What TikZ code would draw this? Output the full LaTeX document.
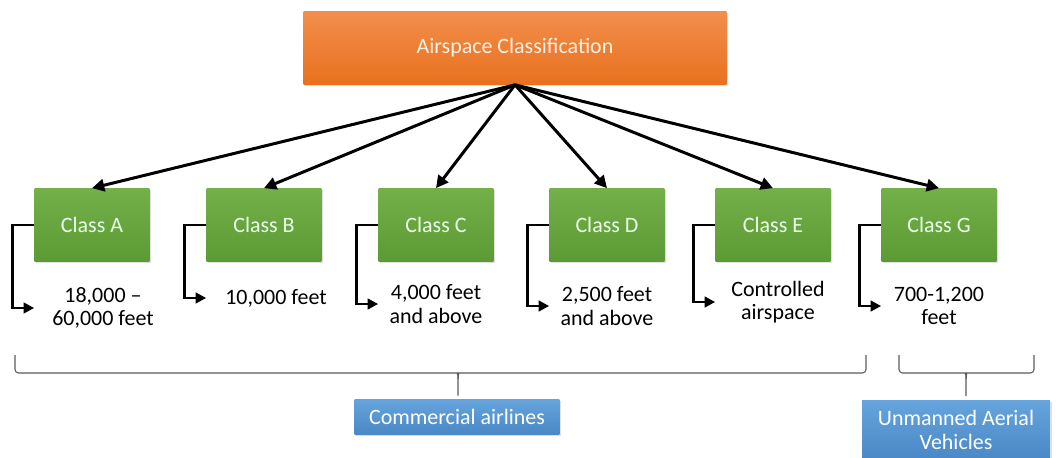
\documentclass[tikz,border=0pt]{standalone}
\usepackage{fontspec}
\setmainfont{Carlito}
\usetikzlibrary{arrows.meta, positioning, shadows}
\definecolor{orgtop}{HTML}{F28E4C}
\definecolor{orgbot}{HTML}{E8711F}
\definecolor{grntop}{HTML}{74B04A}
\definecolor{grnbot}{HTML}{5C9A33}
\definecolor{blutop}{HTML}{65A4DC}
\definecolor{blubot}{HTML}{4A88C6}
\definecolor{brcgray}{HTML}{5A5A5A}

\begin{document}
\begin{tikzpicture}[
      x=0.02cm, y=-0.02cm,
      font=\fontsize{12.5}{13.5}\selectfont,
      topbox/.style={rectangle, top color=orgtop, bottom color=orgbot,
                     draw=none, minimum width=8.46cm, minimum height=1.46cm,
                     text=orange!10, drop shadow={opacity=0.25, shadow xshift=1pt, shadow yshift=-1pt}},
      classbox/.style={rectangle, top color=grntop, bottom color=grnbot,
                       draw=none, minimum width=2.3cm, minimum height=1.46cm,
                       text=green!8!white, drop shadow={opacity=0.25, shadow xshift=1pt, shadow yshift=-1pt}},
      userbox/.style={rectangle, top color=blutop, bottom color=blubot,
                      draw=none, text=white, align=center,
                      drop shadow={opacity=0.25, shadow xshift=1pt, shadow yshift=-1pt}},
      lbl/.style={align=center, inner sep=0pt},
      arr/.style={-{Triangle[length=7pt,width=7pt]}, line width=1.7pt, black},
      elbow/.style={-{Triangle[length=6pt,width=6pt]}, line width=1.6pt, black},
      brc/.style={draw=brcgray, line width=0.6pt, rounded corners=2pt},
      ]
    \useasboundingbox (0,0) rectangle (1062,457);

    \node[topbox] (air) at (515,48) {Airspace Classification};

    \node[classbox] (ca) at (92,225) {Class A};
    \node[classbox] (cb) at (264,225) {Class B};
    \node[classbox] (cc) at (436,225) {Class C};
    \node[classbox] (cd) at (607,225) {Class D};
    \node[classbox] (ce) at (773,225) {Class E};
    \node[classbox] (cg) at (939,225) {Class G};

    \node[lbl] (fa) at (103,308) {18,000 –\\60,000 feet};
    \node[lbl] (fb) at (276,298) {10,000 feet};
    \node[lbl] (fc) at (436,304) {4,000 feet\\and above};
    \node[lbl] (fd) at (607,306) {2,500 feet\\and above};
    \node[lbl] (fe) at (778,302) {Controlled\\airspace};
    \node[lbl] (fg) at (939,306) {700-1,200\\feet};

    \node[userbox, minimum width=4.1cm, minimum height=0.7cm] (com) at (457,417) {Commercial airlines};
    \node[userbox, minimum width=3.76cm, minimum height=1.2cm] (uav) at (956,430) {Unmanned Aerial\\Vehicles};

    % fan out from the top box
    \foreach \c in {ca,cb,cc,cd,ce,cg}
      \draw[arr] (air.south) -- (\c.north);

    % elbows to the altitude labels
    \foreach \c/\f in {ca/fa,cb/fb,cc/fc,cd/fd,ce/fe,cg/fg}
      \draw[elbow] (\c.west) -- ++(-22,0) |- (\c.west |- \f.west);

    % braces
    \draw[brc] (15,355) |- (454,373) to[out=0,in=90] (458,379) -- ([yshift=2pt]com.north -| 458,0);
    \draw[brc] (866,355) |- (462,373) to[out=180,in=90] (458,379);
    \draw[brc] (899,355) |- (962,373) to[out=0,in=90] (966,379) -- ([yshift=2pt]uav.north -| 966,0);
    \draw[brc] (1034,355) |- (970,373) to[out=180,in=90] (966,379);
  \end{tikzpicture}
\end{document}
